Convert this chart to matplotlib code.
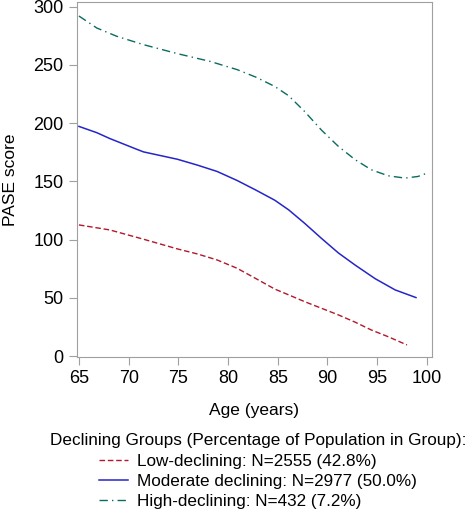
import matplotlib
matplotlib.use('Agg')
import matplotlib.pyplot as plt
import numpy as np

plt.rcParams['font.family'] = ['Liberation Sans', 'DejaVu Sans']

# values
age_high = [65, 66.8, 68.8, 71.5, 74.9, 78.2, 80.9, 82.8, 84.7, 86.1, 87.7, 89.4,
            91.1, 92.8, 94.4, 96.1, 97.8, 99.1, 100]
pase_high = [292, 281.7, 274.6, 267.4, 259.7, 253, 246, 239.5, 231.5, 223.5, 210, 194,
             180, 168.5, 160, 154.8, 152.8, 154.2, 157]
age_mod = [65, 66.8, 68.1, 70.8, 71.5, 74.9, 76.9, 78.9, 80.9, 82.8, 84.7, 86.1,
           87.7, 89.4, 91.1, 92.8, 94.8, 96.8, 98.9]
pase_mod = [197.2, 191.8, 186.8, 177.6, 175.3, 169, 164, 158.5, 150.8, 142.5, 133.8, 125.5,
            114, 101, 88.5, 78, 66.4, 56.8, 50.2]
age_low = [65, 68.1, 71.5, 74.9, 76.9, 78.9, 80.9, 82.8, 84.7, 86.1, 87.7, 89.4,
           91.1, 92.8, 94.4, 96.1, 98]
pase_low = [112.6, 108.3, 100.3, 92, 87.7, 82.5, 75.4, 66.5, 57.5, 52.5, 46.7, 41,
            35.3, 29, 22.4, 16.6, 9.5]

labels = ['Low-declining: N=2555 (42.8%)',
          'Moderate declining: N=2977 (50.0%)',
          'High-declining: N=432 (7.2%)']

fig = plt.figure(figsize=(4.72, 5.11), dpi=100)
ax = fig.add_axes([0.163, 0.301, 0.752, 0.695])

ax.plot(age_low, pase_low, color='#B2182B', lw=1.0, linestyle=(0, (4, 2)), label=labels[0])
ax.plot(age_mod, pase_mod, color='#2525C8', lw=1.1, linestyle='-', label=labels[1])
ax.plot(age_high, pase_high, color='#0B6B5E', lw=1.0, linestyle=(0, (6, 3, 1, 3)), label=labels[2])

ax.set_xlim(64.8, 100.5)
ax.set_ylim(-1, 304)
ax.set_xticks(np.arange(65, 101, 5))
ax.set_yticks(np.arange(0, 301, 50))
for s in ax.spines.values():
    s.set_color('#A0A0A0')
ax.tick_params(direction='out', length=6, pad=3.5, color='#A0A0A0', labelsize=13, labelcolor='black')

ax.set_xlabel('Age (years)', fontsize=12.5)
ax.set_ylabel('PASE score', fontsize=12.5)
ax.xaxis.set_label_coords(0.5, -0.13)
ax.yaxis.set_label_coords(-0.166, 0.5)

fig.legend(loc='upper center', bbox_to_anchor=(0.547, 0.172), frameon=False,
           title='Declining Groups (Percentage of Population in Group):',
           title_fontsize=12.3, fontsize=12.3, handlelength=1.7, handletextpad=0.5,
           labelspacing=0.31, borderpad=0.1)

plt.savefig('out.png', dpi=100)
